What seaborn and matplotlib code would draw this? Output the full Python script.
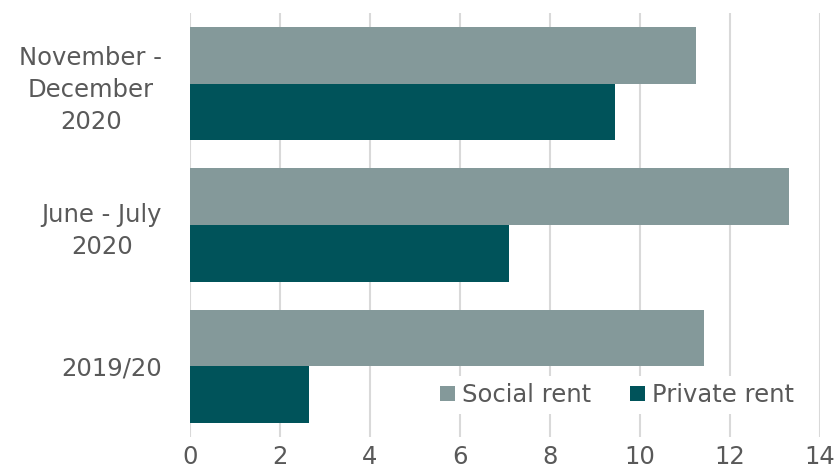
import matplotlib
matplotlib.use("Agg")
import matplotlib.pyplot as plt
import seaborn as sns
import pandas as pd

categories = ["November -\nDecember\n2020", "June - July\n2020", "2019/20"]
social_rent = [11.25, 13.32, 11.43]
private_rent = [9.44, 7.1, 2.64]
series_names = ["Social rent", "Private rent"]
xticks = [0, 2, 4, 6, 8, 10, 12, 14]

df = pd.DataFrame({
    "period": categories * 2,
    "value": social_rent + private_rent,
    "tenure": [series_names[0]] * 3 + [series_names[1]] * 3,
})

sns.set_theme(style="white")
plt.rcParams["font.family"] = ["DejaVu Sans"]

fig = plt.figure(figsize=(8.37, 4.72), dpi=100)
ax = fig.add_axes([190 / 837, 1 - 437 / 472, 630 / 837, 424 / 472])

palette = {"Social rent": "#84999a", "Private rent": "#00535a"}
sns.barplot(data=df, y="period", x="value", hue="tenure", order=categories,
            hue_order=series_names, palette=palette, orient="h",
            width=0.8, saturation=1, linewidth=0, ax=ax, zorder=2)

ax.set_xlim(0, 14)
ax.set_ylim(2.5, -0.5)
ax.set_xticks(xticks)
ax.set_xticklabels([str(t) for t in xticks])
ax.set_xlabel("")
ax.set_ylabel("")
ax.grid(axis="x", color="#d9d9d9", linewidth=1.5, zorder=0)
ax.set_axisbelow(True)
for s in ax.spines.values():
    s.set_visible(False)
ax.tick_params(axis="both", length=0, labelsize=17.5, colors="#595959")
ax.tick_params(axis="y", pad=20)
ax.tick_params(axis="x", pad=6)
for lbl in ax.get_yticklabels():
    lbl.set_multialignment("center")
    lbl.set_linespacing(1.4)

handles, labels = ax.get_legend_handles_labels()
leg = ax.legend(handles, labels, loc="center right", bbox_to_anchor=(0.99, 0.099),
                ncol=2, frameon=True, fontsize=17.5, handlelength=0.6, handleheight=0.6,
                handletextpad=0.3, columnspacing=1.6, borderpad=0.3,
                labelcolor="#595959")
leg.get_frame().set_facecolor("white")
leg.get_frame().set_edgecolor("none")
leg.get_frame().set_alpha(1)

fig.savefig("out.png", dpi=100)
